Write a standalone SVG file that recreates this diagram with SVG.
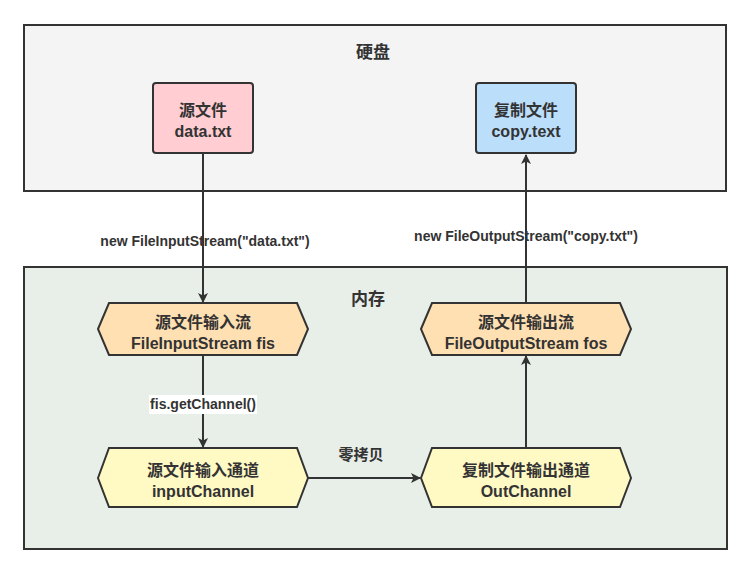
<svg xmlns="http://www.w3.org/2000/svg" width="751" height="574" viewBox="0 0 751 574">
<style>
.t{font-family:"Liberation Sans","Noto Sans CJK SC",sans-serif;font-weight:bold;fill:#333;text-anchor:middle;}
.n{font-size:16px;}
.h{font-size:17px;}
.l{font-size:14px;}
.s{stroke:#333;stroke-width:2;}
.e{stroke:#333;stroke-width:2;fill:none;}
</style>
<defs>
<marker id="a" markerWidth="10" markerHeight="10" refX="9" refY="5" orient="auto" markerUnits="userSpaceOnUse">
<path d="M0,0 L10,5 L0,10 L2.5,5 Z" fill="#333"/>
</marker>
</defs>
<rect width="751" height="574" fill="#ffffff"/>
<g id="disk">
<rect x="24" y="25" width="702" height="166" fill="#f4f4f4" class="s"/>
<text x="373" y="58" class="t h">硬盘</text>
</g>
<g id="memory">
<rect x="24" y="267" width="703" height="282" fill="#e8eee8" class="s"/>
<text x="368" y="305" class="t h">内存</text>
</g>
<g id="srcfile">
<rect x="153" y="83" width="100" height="70" rx="3" fill="#ffcdd2" class="s"/>
<text x="203" y="116" class="t n">源文件</text>
<text x="203" y="137" class="t n">data.txt</text>
</g>
<g id="copyfile">
<rect x="476" y="83" width="100" height="70" rx="3" fill="#bbdefb" class="s"/>
<text x="526" y="116" class="t n">复制文件</text>
<text x="526" y="137" class="t n">copy.text</text>
</g>
<g id="fis">
<polygon points="98,329 109,303 297,303 308,329 297,355 109,355" fill="#ffe0b2" class="s"/>
<text x="203" y="328" class="t n">源文件输入流</text>
<text x="203" y="349" class="t n">FileInputStream fis</text>
</g>
<g id="fos">
<polygon points="421,329 432,303 620,303 631,329 620,355 432,355" fill="#ffe0b2" class="s"/>
<text x="526" y="328" class="t n">源文件输出流</text>
<text x="526" y="349" class="t n">FileOutputStream fos</text>
</g>
<g id="inch">
<polygon points="98,478 109,448 297,448 308,478 297,507 109,507" fill="#fff9c4" class="s"/>
<text x="203" y="476" class="t n">源文件输入通道</text>
<text x="203" y="497" class="t n">inputChannel</text>
</g>
<g id="outch">
<polygon points="421,478 432,448 620,448 631,478 620,507 432,507" fill="#fff9c4" class="s"/>
<text x="526" y="476" class="t n">复制文件输出通道</text>
<text x="526" y="497" class="t n">OutChannel</text>
</g>
<g id="connectors">
<line x1="203" y1="154" x2="203" y2="302" class="e" marker-end="url(#a)"/>
<line x1="203" y1="356" x2="203" y2="447" class="e" marker-end="url(#a)"/>
<line x1="308" y1="478" x2="420" y2="478" class="e" marker-end="url(#a)"/>
<line x1="526" y1="448" x2="526" y2="356" class="e" marker-end="url(#a)"/>
<line x1="526" y1="303" x2="526" y2="155" class="e" marker-end="url(#a)"/>
<text x="205" y="246" class="t l">new FileInputStream("data.txt")</text>
<rect x="149" y="395" width="108" height="19" fill="#ffffff"/>
<text x="203" y="409" class="t l">fis.getChannel()</text>
<text x="361" y="460" class="t" style="font-size:15px">零拷贝</text>
<text x="526" y="241" class="t l">new FileOutputStream("copy.txt")</text>
</g>
</svg>
